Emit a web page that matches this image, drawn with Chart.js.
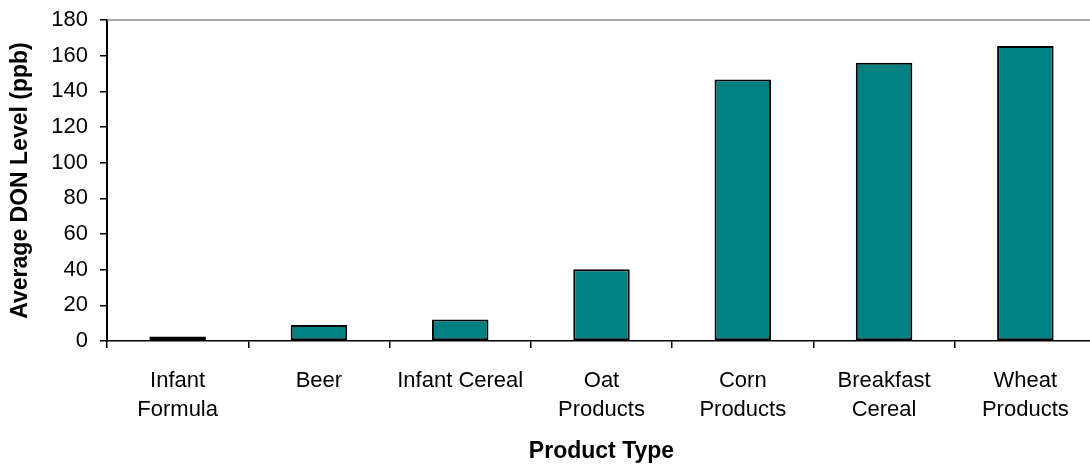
<!DOCTYPE html>
<html>
<head>
<meta charset="utf-8">
<script src="https://cdn.jsdelivr.net/npm/chart.js@4/dist/chart.umd.min.js"></script>
<style>
  html, body { margin: 0; padding: 0; background: #fff; overflow: hidden; }
  #wrap { width: 1096px; height: 466px; }
</style>
</head>
<body>
<div id="wrap"><canvas id="c" width="1096" height="466"></canvas></div>
<script>
// Product categories (multi-line labels as arrays)
const categories = [
  ["Infant", "Formula"],
  "Beer",
  "Infant Cereal",
  ["Oat", "Products"],
  ["Corn", "Products"],
  ["Breakfast", "Cereal"],
  ["Wheat", "Products"]
];
// Average DON level per product type (ppb)
const donLevels = [2.5, 9, 12, 40.3, 146.6, 156, 165.4];
// Value axis range
const yMin = 0;
const yMax = 180;
const yStep = 20;

const FONT = "'Liberation Sans', Arial, sans-serif";

// Plot frame: grey top/right border, black axis lines on the left and bottom
const framePlugin = {
  id: 'frame',
  beforeDatasetsDraw(chart) {
    const { ctx, chartArea: a } = chart;
    ctx.save();
    ctx.strokeStyle = '#8c8c8c';
    ctx.lineWidth = 1.5;
    ctx.beginPath();
    ctx.moveTo(a.left, a.top);
    ctx.lineTo(a.right, a.top);
    ctx.lineTo(a.right, a.bottom);
    ctx.stroke();
    ctx.restore();
  }
};

new Chart(document.getElementById('c'), {
  type: 'bar',
  data: {
    labels: categories,
    datasets: [{
      data: donLevels,
      backgroundColor: '#008080',
      borderColor: '#000000',
      borderWidth: 2,
      borderSkipped: false,
      barPercentage: 0.4,
      categoryPercentage: 1.0
    }]
  },
  options: {
    responsive: false,
    animation: false,
    devicePixelRatio: 1,
    layout: { padding: { top: 20, right: 0, left: 0, bottom: 0 } },
    plugins: {
      legend: { display: false },
      tooltip: { enabled: false }
    },
    scales: {
      x: {
        offset: true,
        grid: {
          offset: true,
          drawOnChartArea: false,
          drawTicks: true,
          tickLength: 7,
          color: '#000000',
          lineWidth: 1.5
        },
        border: { display: true, color: '#000000', width: 1.5 },
        ticks: {
          color: '#000000',
          font: { family: FONT, size: 22, lineHeight: 1.32 },
          padding: 18,
          maxRotation: 0,
          autoSkip: false
        },
        title: {
          display: true,
          text: 'Product Type',
          color: '#000000',
          font: { family: FONT, size: 23, weight: 'bold' },
          padding: { top: 0, bottom: 1 }
        },
        afterFit(scale) { scale.height = 125; }
      },
      y: {
        min: yMin,
        max: yMax,
        grid: {
          drawOnChartArea: false,
          drawTicks: true,
          tickLength: 7,
          color: '#000000',
          lineWidth: 1.5
        },
        border: { display: true, color: '#000000', width: 2 },
        ticks: {
          stepSize: yStep,
          color: '#000000',
          font: { family: FONT, size: 22 },
          padding: 12
        },
        title: {
          display: true,
          text: 'Average DON Level (ppb)',
          color: '#000000',
          font: { family: FONT, size: 23, weight: 'bold' },
          padding: { top: 7, bottom: 0 }
        },
        afterFit(scale) {
          scale.width = 107;
          scale.paddingTop = 0;
          scale.paddingBottom = 0;
        }
      }
    }
  },
  plugins: [framePlugin]
});
</script>
</body>
</html>
